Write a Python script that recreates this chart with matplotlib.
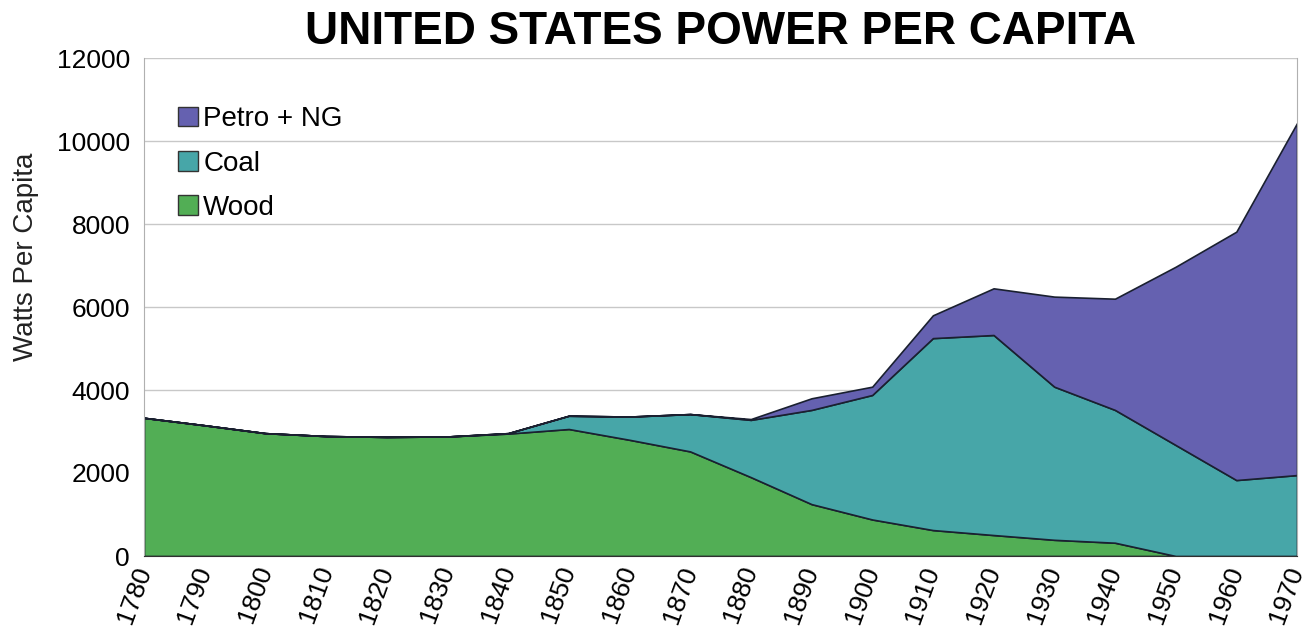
import matplotlib
matplotlib.use("Agg")
import matplotlib.pyplot as plt
from matplotlib.patches import Patch
import numpy as np

plt.rcParams['font.family'] = ['Liberation Sans', 'DejaVu Sans']

years = list(range(1780, 1971, 10))
wood = [3330, 3150, 2960, 2890, 2870, 2880, 2950, 3060, 2800, 2520,
        1900, 1250, 880, 625, 505, 390, 320, 0, 0, 0]
coal = [0, 0, 0, 0, 0, 0, 10, 320, 560, 900,
        1380, 2270, 3000, 4625, 4820, 3690, 3200, 2675, 1830, 1950]
petro = [0, 0, 0, 0, 0, 0, 0, 0, 0, 0,
         20, 280, 200, 550, 1125, 2170, 2680, 4295, 5985, 8480]

labels = ["Wood", "Coal", "Petro + NG"]
colors = ["#52ae55", "#47a6a8", "#6561b0"]

fig = plt.figure(figsize=(13.15, 6.36), dpi=100)
ax = fig.add_axes([144/1315, 1 - 556/636, 1153/1315, 498/636])

ax.stackplot(years, wood, coal, petro, colors=colors,
             edgecolor="#1a2030", linewidth=1.2, zorder=2)

ax.set_xlim(1780, 1970)
ax.set_ylim(0, 12000)
ax.set_xticks(years)
ax.set_xticklabels([str(y) for y in years], rotation=70, ha="right",
                   va="center", rotation_mode="anchor", fontsize=19)
ax.set_yticks(range(0, 12001, 2000))
ax.tick_params(axis="y", length=0, pad=10, labelsize=19)
ax.tick_params(axis="x", length=0, pad=8)
ax.grid(axis="y", color="#c8c8c8", linewidth=1, zorder=0)
ax.set_axisbelow(True)

for s in ["left", "right", "top"]:
    ax.spines[s].set_color("#b0b0b0")
ax.spines["top"].set_visible(False)
ax.spines["bottom"].set_color("#303030")

ax.set_ylabel("Watts Per Capita", fontsize=20, color="#222222")
ax.yaxis.set_label_coords(-0.091, 0.60)

ax.set_title("UNITED STATES POWER PER CAPITA", fontsize=33,
             fontweight="bold", pad=10)

handles = [Patch(facecolor=colors[i], edgecolor="#333333", label=labels[i])
           for i in [2, 1, 0]]
ax.legend(handles=handles, loc="upper left", bbox_to_anchor=(0.02, 0.925),
          frameon=False, fontsize=20, handlelength=0.7, handleheight=0.7,
          handletextpad=0.2, labelspacing=0.65, borderaxespad=0)

fig.savefig("out.png", dpi=100)
